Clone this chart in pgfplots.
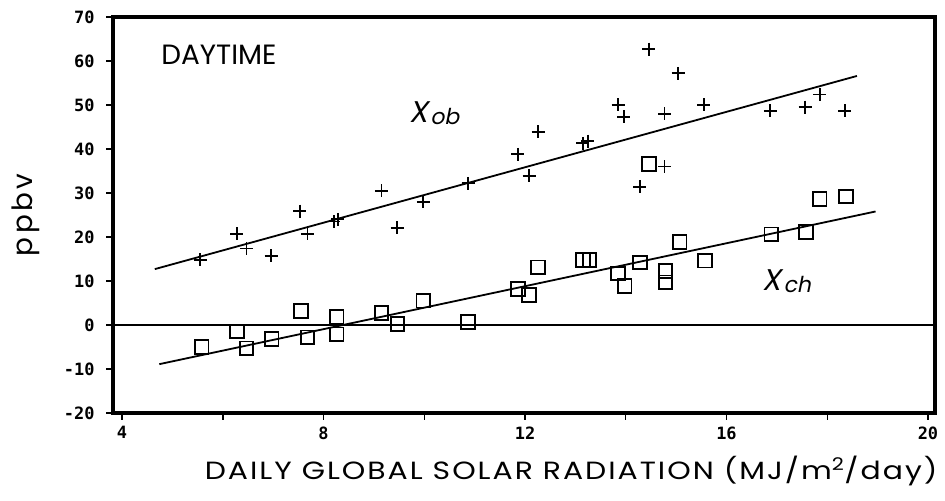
\documentclass[border=0pt]{standalone}
\usepackage{fontspec}
\setmainfont{Poppins}
\newfontfamily\tickfont{DejaVu Sans Mono}
\newfontfamily\slfont{Poppins}[FakeSlant=0.2]
\newfontfamily\widefont{Poppins}[FakeStretch=1.2, LetterSpace=8]
\newfontfamily\spacedfont{Poppins}[LetterSpace=12]
\usepackage{pgfplots}
\pgfplotsset{compat=1.18}

% observed mixing ratio against daily solar radiation
\pgfplotstableread{
x y
5.55 14.8
6.28 20.7
6.47 17.4
6.96 15.7
7.53 25.9
7.68 20.7
8.20 23.5
8.28 24.0
9.15 30.5
9.46 22.1
9.98 28.0
10.87 32.2
11.86 38.8
12.08 33.9
12.26 43.9
13.15 41.3
13.25 41.8
13.85 50.0
13.96 47.3
14.28 31.4
14.46 62.7
14.77 48.0
14.77 36.0
15.04 57.2
15.55 50.0
16.87 48.7
17.56 49.5
17.85 52.4
18.35 48.7
}\obs

% chemically produced part
\pgfplotstableread{
x y
5.58 -5.0
6.28 -1.5
6.47 -5.3
6.97 -3.2
7.55 3.2
7.68 -2.8
8.26 1.9
8.26 -2.1
9.15 2.7
9.47 0.2
9.98 5.5
10.87 0.7
11.86 8.2
12.08 6.8
12.26 13.1
13.15 14.8
13.28 14.8
13.85 11.7
13.98 8.9
14.28 14.2
14.46 36.6
14.79 12.3
14.79 9.7
15.07 18.9
15.57 14.6
16.89 20.6
17.58 21.1
17.85 28.6
18.37 29.2
}\chem

\begin{document}
\begin{tikzpicture}
\begin{axis}[
  scale only axis, width=822bp, height=396bp,
  xmin=3.82, xmax=20.14, ymin=-20, ymax=70,
  axis background/.style={draw=black, line width=3.4bp},
  axis line style={line width=3.4bp},
  xtick={4,8,12,16,20}, xticklabels={4,8,12,16,20},
  minor xtick={6,10,14,18},
  ytick={-20,-10,0,10,20,30,40,50,60,70},
  yticklabels={-20,-10,0,10,20,30,40,50,60,70},
  tick align=outside, tick pos=left,
  major tick length=7bp, minor tick length=7bp,
  every tick/.style={black, line width=1.4bp},
  every minor tick/.style={black, line width=1.4bp},
  every major tick/.style={black, line width=1.4bp},
  ticklabel style={font=\tickfont\bfseries\fontsize{17}{17}\selectfont},
  yticklabel style={xshift=-8bp},
  xticklabel style={yshift=-3bp},
  xlabel={\widefont DAILY GLOBAL SOLAR RADIATION (MJ/m\textsuperscript{2}/day)},
  xlabel style={at={(rel axis cs:1,0)}, anchor=base east,
    xshift=6bp, yshift=-67bp,
    font=\fontsize{25}{25}\selectfont},
  ylabel={\spacedfont ppbv},
  ylabel style={at={(rel axis cs:-0.106,0.50)}, anchor=center,
    font=\fontsize{28}{28}\selectfont},
  clip=false,
]
\coordinate (sw) at (rel axis cs:0,0);
\coordinate (ne) at (rel axis cs:1,1);

% zero reference
\addplot[black, line width=1.3bp] coordinates {(3.82,0) (20.14,0)};

% regression lines
\addplot[black, line width=1.8bp] coordinates {(4.65,12.7) (18.59,56.6)};
\addplot[black, line width=1.8bp] coordinates {(4.74,-8.9) (18.96,25.8)};

\addplot[only marks, mark=+, mark size=6.5bp, black, line width=1.8bp] table {\obs};
\addplot[only marks, mark=square, mark size=6.8bp, black, line width=1.8bp] table {\chem};

\node[anchor=west, font=\fontsize{28}{28}\selectfont] at (axis cs:4.71,61.4) {DAYTIME};
\node[anchor=west, inner sep=0pt] at (axis cs:9.71,48.2)
  {\slfont\fontsize{30}{30}\selectfont X\kern2bp\raisebox{-2bp}{\fontsize{22}{22}\selectfont ob}};
\node[anchor=west, inner sep=0pt] at (axis cs:16.72,10.0)
  {\slfont\fontsize{30}{30}\selectfont X\kern2bp\raisebox{-2bp}{\fontsize{22}{22}\selectfont ch}};
\end{axis}
\pgfresetboundingbox
\useasboundingbox ([xshift=-113bp,yshift=-88bp]sw) rectangle ([xshift=10bp,yshift=17bp]ne);
\end{tikzpicture}
\end{document}
